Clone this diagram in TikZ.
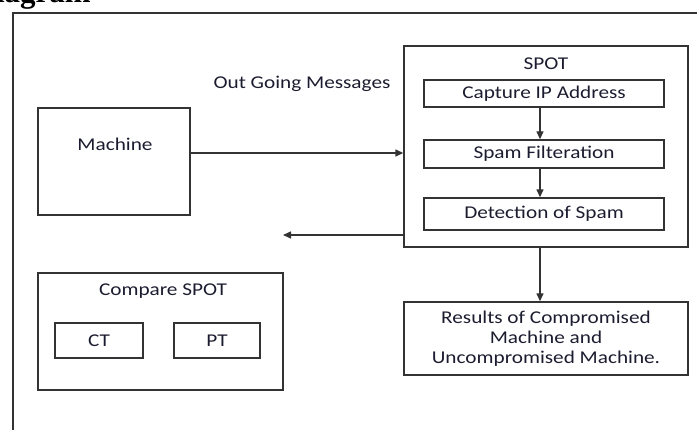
\documentclass[tikz,border=0pt]{standalone}
\usepackage{fontspec}
\setmainfont{Carlito}[FakeStretch=1.18]
\newfontfamily\headfont{Liberation Serif}
\usetikzlibrary{arrows.meta}
\definecolor{linegray}{HTML}{333333}
\definecolor{inkblue}{HTML}{1C1C30}
\tikzset{
  box/.style={draw=linegray, line width=1.4pt, inner sep=0pt},
  txt/.style={font=\fontsize{18}{20}\selectfont, text=inkblue, align=center},
  flow/.style={draw=linegray, line width=1.4pt, -{Triangle[length=8pt,width=7pt]}}
}
\begin{document}
\begin{tikzpicture}[x=1pt,y=-1pt]
\useasboundingbox (0,0) rectangle (697,430);
% heading, cut off at the top edge
\node[anchor=base east, inner sep=0pt, font={\headfont\bfseries\fontsize{31}{36}\selectfont}] (head) at (91,2.5) {Diagram};
\draw[linegray, line width=1.4pt] (13,430)--(13,13)--(697,13);

% machine
\node[box, minimum width=152pt, minimum height=107pt] (mach) at (114,161.5) {};
\node[txt] (machtxt) at (115,144) {Machine};
\node[txt] (outmsg) at (302,84) {Out Going Messages};

% spot and its steps
\node[box, minimum width=284pt, minimum height=201pt] (spot) at (546,146.5) {};
\node[txt] (spottxt) at (546,64) {SPOT};
\foreach \nm/\y/\h/\t in {cap/93.5/27/Capture IP Address,filt/154/28/Spam Filteration,det/214/32/Detection of Spam}{
  \node[box, txt, minimum width=240pt, minimum height=\h pt] (\nm) at (544,\y) {\t};
}
\draw[flow] ([xshift=-4pt]cap.south) -- ([xshift=-4pt]filt.north);
\draw[flow] ([xshift=-4pt]filt.south) -- ([xshift=-4pt]det.north);

\coordinate (m1) at ([yshift=8.5pt]mach.east);
\draw[flow] (m1) -- (m1 -| spot.west);
\coordinate (back) at (283,235);
\draw[flow] (spot.west |- back) -- (back);

% results
\node[box, txt, minimum width=284pt, minimum height=73pt] (res) at (546,338.5) {Results of Compromised\\Machine and\\Uncompromised Machine.};
\draw[flow] ([xshift=-6pt]spot.south) -- ([xshift=-6pt]res.north);

% compare spot
\node[box, minimum width=245pt, minimum height=117pt] (cmp) at (160.5,331.5) {};
\node[txt] (cmptxt) at (163,291) {Compare SPOT};
\node[box, txt, minimum width=88pt, minimum height=35pt] (ct) at (99,340.5) {CT};
\node[box, txt, minimum width=86pt, minimum height=35pt] (pt) at (217,340.5) {PT};
\end{tikzpicture}
\end{document}
